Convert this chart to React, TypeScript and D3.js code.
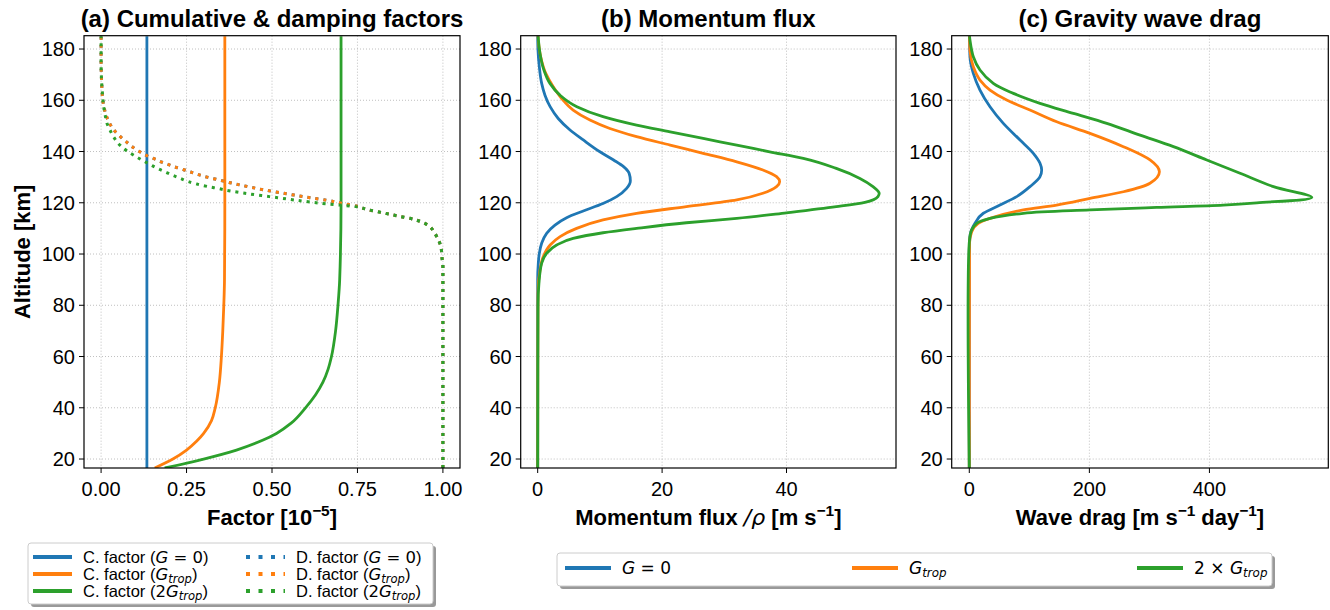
import * as d3 from 'd3';

const BLUE = '#1f77b4';
const ORANGE = '#ff7f0e';
const GREEN = '#2ca02c';
const SANS = 'Liberation Sans, Arial, Helvetica, sans-serif';
const MATH = 'DejaVu Sans, sans-serif';

const altTicks = [20, 40, 60, 80, 100, 120, 140, 160, 180];
const factorTicks = [0, 0.25, 0.5, 0.75, 1.0];
const fluxTicks = [0, 20, 40];
const dragTicks = [0, 200, 400];

// (a) cumulative factors
const cG0Alt = [16.5, 185];
const cG0 = [0.134, 0.134];
const cGtropAlt = [16.5, 20, 23.5, 27, 30, 35, 40, 50, 60, 70, 80, 90, 120, 185];
const cGtrop = [0.157, 0.21, 0.25, 0.28, 0.3, 0.323, 0.334, 0.346, 0.352, 0.356, 0.359, 0.361, 0.362, 0.362];
const cG2tropAlt = [16.5, 20, 23.5, 27.4, 30, 34, 40, 45, 50, 55, 60, 70, 80, 90, 120, 185];
const cG2trop = [0.186, 0.3, 0.396, 0.474, 0.513, 0.556, 0.598, 0.627, 0.649, 0.664, 0.674, 0.686, 0.693, 0.698, 0.702, 0.702];

// (a) damping factors
const dAlt = [16.5, 95, 99, 102.2, 105.5, 108.3, 111.3, 112.6, 113.5, 114.8, 116.1, 117.4, 118.5, 119.8, 121, 122, 123, 124, 125, 126, 127, 128, 129, 130, 131, 132, 133, 134, 135, 136, 137, 138, 140, 142, 144, 146, 148, 151, 154, 157, 160, 166, 175, 185];
const dG0 = [1.0, 1.0, 0.997, 0.995, 0.987, 0.975, 0.956, 0.936, 0.916, 0.87, 0.824, 0.777, 0.753, 0.704, 0.66, 0.611, 0.565, 0.52, 0.478, 0.44, 0.405, 0.372, 0.342, 0.31, 0.285, 0.262, 0.24, 0.215, 0.195, 0.175, 0.158, 0.14, 0.112, 0.09, 0.072, 0.055, 0.04, 0.025, 0.015, 0.009, 0.005, 0.002, 0, 0];
const dGtrop = [1.0, 1.0, 0.997, 0.995, 0.987, 0.975, 0.956, 0.936, 0.916, 0.87, 0.824, 0.777, 0.753, 0.704, 0.66, 0.611, 0.565, 0.52, 0.478, 0.44, 0.405, 0.372, 0.342, 0.31, 0.285, 0.262, 0.24, 0.215, 0.195, 0.175, 0.158, 0.14, 0.112, 0.09, 0.072, 0.055, 0.04, 0.025, 0.015, 0.009, 0.005, 0.002, 0, 0];
const dG2tropAlt = [16.5, 95, 99, 102.2, 105.5, 108.3, 111.3, 112.6, 113.5, 114.8, 116.1, 117.4, 118.5, 119.1, 119.6, 120.3, 121.1, 122, 122.8, 123.7, 124.6, 125.5, 126.4, 127.3, 128.3, 129.5, 130.7, 132, 133.4, 134.8, 136.4, 138.2, 140.3, 142.5, 145.4, 148.1, 150.7, 154.2, 157.2, 163.3, 175, 185];
const dG2trop = [1.0, 1.0, 0.997, 0.995, 0.987, 0.975, 0.956, 0.936, 0.916, 0.87, 0.824, 0.777, 0.745, 0.7, 0.658, 0.611, 0.565, 0.516, 0.47, 0.421, 0.378, 0.345, 0.31, 0.28, 0.255, 0.232, 0.21, 0.188, 0.165, 0.145, 0.123, 0.1, 0.075, 0.055, 0.038, 0.027, 0.018, 0.012, 0.008, 0.0035, 0, 0];

// (b) momentum flux
const fluxG0Alt = [16.5, 90, 96.4, 100, 104.2, 108.1, 111.3, 114.2, 116.8, 119.7, 122.4, 125.6, 128.6, 131.5, 134.1, 136.7, 139.9, 144.5, 148.4, 152.9, 157.5, 162, 166.6, 173.1, 179.6, 185];
const fluxG0 = [0, 0, 0.1, 0.25, 0.64, 1.44, 2.78, 4.65, 7.33, 10.5, 12.7, 14.3, 14.9, 14.7, 13.8, 12.2, 10.0, 7.33, 5.2, 3.3, 2.0, 1.17, 0.64, 0.26, 0.05, 0];
const fluxGtropAlt = [16.5, 85, 93.7, 99, 103.5, 106.8, 110, 113.3, 115.9, 118.5, 121.1, 123.7, 126.3, 128.2, 130.2, 132.8, 136, 139.3, 142.5, 145.8, 149, 152.3, 156.2, 160.7, 165.3, 170.5, 177, 183.5, 185];
const fluxGtrop = [0, 0.05, 0.37, 0.9, 2.0, 3.6, 6.26, 10.5, 15.9, 23.9, 32.0, 36.2, 38.4, 38.9, 38.4, 36.2, 32.0, 26.6, 21.3, 15.9, 11.6, 8.4, 5.7, 3.85, 2.5, 1.3, 0.48, 0.1, 0.05];
const fluxG2tropAlt = [16.5, 80, 88.5, 96.4, 100.3, 103.5, 106.1, 108.3, 110, 112.2, 113.9, 116.1, 118.5, 120.2, 122.4, 123.7, 126.3, 129.5, 133.4, 137.3, 139.9, 142.5, 145.1, 147.7, 150.3, 153.6, 157.5, 162, 166.6, 171.8, 178.3, 184.2, 185];
const fluxG2trop = [0, 0.05, 0.2, 0.64, 1.44, 3.05, 5.7, 10.5, 15.9, 23.9, 32, 40, 48, 52.6, 54.7, 54.9, 53.9, 51.8, 48, 42.7, 37.3, 32, 26.6, 21.3, 15.9, 10.5, 6.3, 3.58, 1.97, 1.0, 0.37, 0.1, 0.08];

// (c) wave drag
const dragG0Alt = [16.5, 101.6, 106.8, 112, 115.9, 119.1, 122.4, 126.3, 130.2, 132.8, 135.4, 139.3, 144.5, 151, 157.5, 164, 170.5, 177, 185];
const dragG0 = [0, 0, 1.1, 9.5, 23.4, 51.1, 78.9, 101.1, 117.8, 120.6, 117.8, 106.7, 84.5, 56.7, 34.5, 17.8, 6.7, 1.1, 0.3];
const dragGtropAlt = [16.5, 104.2, 108.7, 112, 113.9, 117.2, 119.1, 121.7, 124.3, 127.6, 132.1, 136.7, 141.9, 147.1, 151.6, 156.2, 160.1, 164, 167.9, 173.1, 179.6, 185];
const dragGtrop = [0, 0.4, 4, 15, 34.5, 90, 145.6, 201, 256.7, 301, 316.7, 301, 256.7, 201, 145.6, 101, 62.3, 34.5, 17.8, 6.7, 1.1, 0.3];
const dragG2tropAlt = [16.5, 105.5, 109.4, 112, 113.9, 115.9, 117.2, 118.2, 119.1, 120, 122.1, 126.3, 131.5, 136.7, 141.9, 146.4, 151, 154.9, 158.8, 162.7, 166.6, 171.8, 177, 183.5, 185];
const dragG2trop = [0, 0.4, 4, 12.3, 34.5, 90, 201, 312, 423, 479, 570.6, 506.7, 451, 395.6, 340, 284.5, 229, 173.4, 117.8, 73.4, 40, 17.8, 6.7, 1.1, 0.5];

const TOP = 35.7;
const BOTTOM = 468;
const y = d3.scaleLinear().domain([16.5, 185.2]).range([BOTTOM, TOP]);

interface Series {
  alt: number[];
  val: number[];
  color: string;
  dotted?: boolean;
  sharp?: boolean;
}

interface PanelProps {
  id: string;
  left: number;
  right: number;
  xDomain: [number, number];
  xTicks: number[];
  fmt: (v: number) => string;
  title: string;
  xlabel: React.ReactNode;
  series: Series[];
  ylabel?: boolean;
}

function Panel({ id, left, right, xDomain, xTicks, fmt, title, xlabel, series, ylabel }: PanelProps) {
  const x = d3.scaleLinear().domain(xDomain).range([left, right]);
  const cx = (left + right) / 2;
  return (
    <g>
      <defs>
        <clipPath id={id}>
          <rect x={left} y={TOP} width={right - left} height={BOTTOM - TOP} />
        </clipPath>
      </defs>
      {/* grid */}
      {xTicks.map(t => (
        <line key={'gx' + t} x1={x(t)} x2={x(t)} y1={TOP} y2={BOTTOM}
          stroke="#b0b0b0" strokeWidth={0.8} strokeDasharray="1,2" />
      ))}
      {altTicks.map(t => (
        <line key={'gy' + t} x1={left} x2={right} y1={y(t)} y2={y(t)}
          stroke="#b0b0b0" strokeWidth={0.8} strokeDasharray="1,2" />
      ))}
      <g clipPath={`url(#${id})`}>
        {series.map((s, i) => {
          const pts = s.alt.map((a, j) => [s.val[j], a] as [number, number]);
          const line = d3.line<[number, number]>()
            .x(d => x(d[0]))
            .y(d => y(d[1]))
            .curve(s.sharp ? d3.curveCatmullRom.alpha(0.5) : d3.curveMonotoneY);
          return (
            <path key={i} d={line(pts) || ''} fill="none" stroke={s.color}
              strokeWidth={s.dotted ? 3 : 2.8}
              strokeDasharray={s.dotted ? '3,5' : undefined} />
          );
        })}
      </g>
      <rect x={left} y={TOP} width={right - left} height={BOTTOM - TOP}
        fill="none" stroke="#000" strokeWidth={1.2} />
      {/* ticks */}
      {xTicks.map(t => (
        <g key={'tx' + t}>
          <line x1={x(t)} x2={x(t)} y1={BOTTOM} y2={BOTTOM + 5} stroke="#000" strokeWidth={1} />
          <text x={x(t)} y={BOTTOM + 28} textAnchor="middle" fontFamily={SANS} fontSize={20}>{fmt(t)}</text>
        </g>
      ))}
      {altTicks.map(t => (
        <g key={'ty' + t}>
          <line x1={left - 5} x2={left} y1={y(t)} y2={y(t)} stroke="#000" strokeWidth={1} />
          <text x={left - 9} y={y(t)} dy="0.36em" textAnchor="end" fontFamily={SANS} fontSize={20}>{t}</text>
        </g>
      ))}
      <text x={cx} y={27} textAnchor="middle" fontFamily={SANS} fontWeight="bold" fontSize={24}>{title}</text>
      <text x={cx} y={525} textAnchor="middle" fontFamily={SANS} fontWeight="bold" fontSize={22}>{xlabel}</text>
      {ylabel && (
        <text transform={`translate(30,${(TOP + BOTTOM) / 2}) rotate(-90)`} textAnchor="middle"
          fontFamily={SANS} fontWeight="bold" fontSize={22}>Altitude [km]</text>
      )}
    </g>
  );
}

// label text for G = 0, G_trop, 2G_trop, with an optional closing suffix after the subscript
function Gsym({ kind, close }: { kind: 'g0' | 'trop' | '2trop'; close?: string }) {
  if (kind === 'g0') {
    return (<><tspan fontFamily={MATH} fontStyle="italic">G</tspan><tspan fontFamily={MATH}> = 0</tspan>{close && <tspan>{close}</tspan>}</>);
  }
  return (
    <>
      {kind === '2trop' && <tspan fontFamily={MATH}>2</tspan>}
      <tspan fontFamily={MATH} fontStyle="italic">G</tspan>
      <tspan fontFamily={MATH} fontStyle="italic" fontSize="0.7em" dy={3}>trop</tspan>
      {close && <tspan dy={-3}>{close}</tspan>}
    </>
  );
}

const leftLegend = [
  { label: 'C. factor', kind: 'g0' as const, color: BLUE, dotted: false },
  { label: 'C. factor', kind: 'trop' as const, color: ORANGE, dotted: false },
  { label: 'C. factor', kind: '2trop' as const, color: GREEN, dotted: false },
  { label: 'D. factor', kind: 'g0' as const, color: BLUE, dotted: true },
  { label: 'D. factor', kind: 'trop' as const, color: ORANGE, dotted: true },
  { label: 'D. factor', kind: '2trop' as const, color: GREEN, dotted: true },
];

const rightLegend = [
  { kind: 'g0', color: BLUE },
  { kind: 'trop', color: ORANGE },
  { kind: '2xtrop', color: GREEN },
];

export default function App() {
  const fmtFactor = d3.format('.2f');
  const fmtInt = d3.format('d');
  return (
    <svg width={1330} height={610} style={{ position: 'absolute', left: 0, top: 0, background: '#fff' }}>
      <Panel id="clipA" left={84} right={460} xDomain={[-0.05, 1.05]} xTicks={factorTicks} fmt={fmtFactor}
        title="(a) Cumulative & damping factors" ylabel
        xlabel={<><tspan>Factor [10</tspan><tspan fontSize="0.7em" dy={-9}>−5</tspan><tspan dy={9}>]</tspan></>}
        series={[
          { alt: cG0Alt, val: cG0, color: BLUE },
          { alt: cGtropAlt, val: cGtrop, color: ORANGE },
          { alt: cG2tropAlt, val: cG2trop, color: GREEN },
          { alt: dAlt, val: dG0, color: BLUE, dotted: true },
          { alt: dAlt, val: dGtrop, color: ORANGE, dotted: true },
          { alt: dG2tropAlt, val: dG2trop, color: GREEN, dotted: true },
        ]} />
      <Panel id="clipB" left={520.7} right={896} xDomain={[-2.73, 57.6]} xTicks={fluxTicks} fmt={fmtInt}
        title="(b) Momentum flux"
        xlabel={<><tspan>Momentum flux </tspan><tspan fontFamily={MATH} fontWeight="normal" fontStyle="italic">/ρ</tspan><tspan> [m s</tspan><tspan fontSize="0.7em" dy={-9}>−1</tspan><tspan dy={9}>]</tspan></>}
        series={[
          { alt: fluxG0Alt, val: fluxG0, color: BLUE },
          { alt: fluxGtropAlt, val: fluxGtrop, color: ORANGE },
          { alt: fluxG2tropAlt, val: fluxG2trop, color: GREEN },
        ]} />
      <Panel id="clipC" left={951.7} right={1328.3} xDomain={[-29.3, 598]} xTicks={dragTicks} fmt={fmtInt}
        title="(c) Gravity wave drag"
        xlabel={<><tspan>Wave drag [m s</tspan><tspan fontSize="0.7em" dy={-9}>−1</tspan><tspan dy={9}> day</tspan><tspan fontSize="0.7em" dy={-9}>−1</tspan><tspan dy={9}>]</tspan></>}
        series={[
          { alt: dragG0Alt, val: dragG0, color: BLUE },
          { alt: dragGtropAlt, val: dragGtrop, color: ORANGE },
          { alt: dragG2tropAlt, val: dragG2trop, color: GREEN, sharp: true },
        ]} />

      {/* left legend */}
      <rect x={31} y={546} width={405} height={61} rx={3} fill="#999" />
      <rect x={28} y={543} width={405} height={61} rx={3} fill="#fff" stroke="#ccc" strokeWidth={1} />
      {leftLegend.map((e, i) => {
        const col = Math.floor(i / 3);
        const row = i % 3;
        const lx = col === 0 ? 33 : 246;
        const tx = col === 0 ? 83 : 296;
        const ly = 557 + row * 17;
        return (
          <g key={i}>
            <line x1={lx} x2={lx + 39} y1={ly} y2={ly} stroke={e.color} strokeWidth={4}
              strokeDasharray={e.dotted ? '4,8.5' : undefined} />
            <text x={tx} y={ly + 6} fontFamily={SANS} fontSize={16.5}>
              <tspan>{e.label} (</tspan>
              <Gsym kind={e.kind} close=")" />
            </text>
          </g>
        );
      })}

      {/* right legend */}
      <rect x={560} y={556} width={715} height={33} rx={3} fill="#999" />
      <rect x={557} y={553} width={715} height={33} rx={3} fill="#fff" stroke="#ccc" strokeWidth={1} />
      {rightLegend.map((e, i) => {
        const lx = [565, 852, 1137][i];
        const ly = 568;
        return (
          <g key={i}>
            <line x1={lx} x2={lx + 46} y1={ly} y2={ly} stroke={e.color} strokeWidth={4} />
            <text x={lx + 57} y={ly + 6} fontFamily={MATH} fontSize={17}>
              {e.kind === 'g0' && <Gsym kind="g0" />}
              {e.kind === 'trop' && <Gsym kind="trop" />}
              {e.kind === '2xtrop' && (<><tspan>2 × </tspan><Gsym kind="trop" /></>)}
            </text>
          </g>
        );
      })}
    </svg>
  );
}
